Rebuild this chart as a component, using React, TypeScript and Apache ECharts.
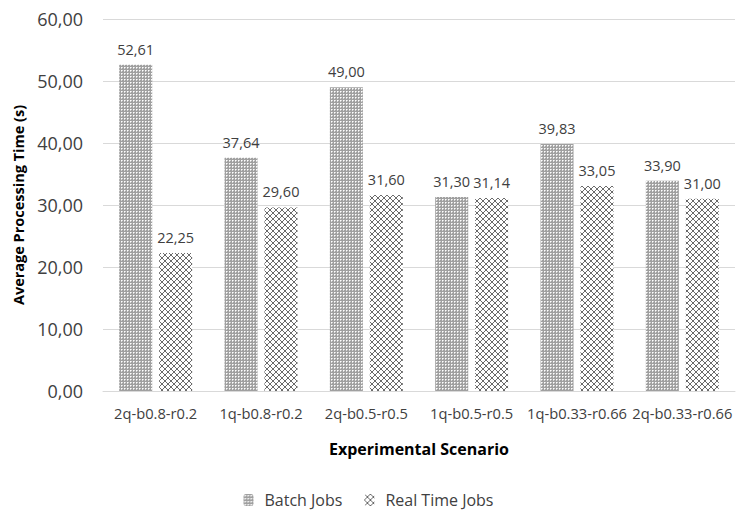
import React, { useEffect, useRef } from "react";
import * as echarts from "echarts";

const categories = ["2q-b0.8-r0.2", "1q-b0.8-r0.2", "2q-b0.5-r0.5", "1q-b0.5-r0.5", "1q-b0.33-r0.66", "2q-b0.33-r0.66"];
const batchJobs = [52.61, 37.64, 49.0, 31.3, 39.83, 33.9];
const realTimeJobs = [22.25, 29.6, 31.6, 31.14, 33.05, 31.0];
const seriesNames = ["Batch Jobs", "Real Time Jobs"];

const FONT = "'Open Sans', sans-serif";

function makeDots(): HTMLCanvasElement {
  const c = document.createElement("canvas");
  c.width = 3;
  c.height = 3;
  const ctx = c.getContext("2d")!;
  ctx.fillStyle = "#a0a0a0";
  ctx.fillRect(0, 0, 3, 3);
  ctx.fillStyle = "#ffffff";
  ctx.fillRect(1, 1, 1, 1);
  ctx.fillStyle = "#d8d8d8";
  ctx.fillRect(2, 1, 1, 1);
  ctx.fillRect(1, 2, 1, 1);
  return c;
}

function makeCross(): HTMLCanvasElement {
  const c = document.createElement("canvas");
  const n = 6;
  c.width = n;
  c.height = n;
  const ctx = c.getContext("2d")!;
  ctx.fillStyle = "#ffffff";
  ctx.fillRect(0, 0, n, n);
  ctx.fillStyle = "#6a6a6a";
  for (let i = 0; i < n; i++) {
    ctx.fillRect(i, i, 1, 1);
    ctx.fillRect(i, n - 1 - i, 1, 1);
  }
  return c;
}

const fmt = (v: number) => v.toFixed(2).replace(".", ",");

export default function App() {
  const ref = useRef<HTMLDivElement>(null);
  useEffect(() => {
    if (!ref.current) return;
    const chart = echarts.init(ref.current, null, { renderer: "svg" });
    const dots = makeDots();
    const cross = makeCross();
    const dotPattern: any = { image: dots, repeat: "repeat", imageWidth: 3, imageHeight: 3 };
    const crossPattern: any = { image: cross, repeat: "repeat", imageWidth: 6, imageHeight: 6 };
    const labelStyle = {
      show: true,
      position: "top" as const,
      distance: 8,
      color: "#404040",
      fontSize: 14.5,
      fontFamily: FONT,
      formatter: (p: any) => fmt(p.value),
    };
    chart.setOption({
      animation: false,
      backgroundColor: "#ffffff",
      grid: { left: 103, right: 2, top: 19, bottom: 123, containLabel: false },
      legend: {
        data: seriesNames,
        left: "center",
        top: 492,
        padding: 0,
        itemWidth: 10,
        itemHeight: 12,
        itemGap: 22,
        textStyle: { color: "#404040", fontSize: 16, lineHeight: 16, fontFamily: FONT, padding: [0, 0, 0, 6] },
      },
      xAxis: {
        type: "category",
        data: categories,
        name: "Experimental Scenario",
        nameLocation: "middle",
        nameGap: 50,
        nameTextStyle: { color: "#000000", fontSize: 16, fontWeight: "bold", fontFamily: FONT },
        axisLine: { lineStyle: { color: "#d9d9d9", width: 1 } },
        axisTick: { show: false },
        axisLabel: { color: "#404040", fontSize: 14.7, fontFamily: FONT, margin: 14, interval: 0 },
      },
      yAxis: {
        type: "value",
        min: 0,
        max: 60,
        interval: 10,
        name: "Average Processing Time (s)",
        nameLocation: "middle",
        nameGap: 68,
        nameTextStyle: { color: "#000000", fontSize: 14.5, fontWeight: "bold", fontFamily: FONT },
        axisLine: { show: false },
        axisTick: { show: false },
        axisLabel: { color: "#404040", fontSize: 18, fontFamily: FONT, margin: 20, formatter: (v: number) => fmt(v) },
        splitLine: { lineStyle: { color: "#d9d9d9", width: 1 } },
      },
      series: [
        {
          name: seriesNames[0],
          type: "bar",
          data: batchJobs,
          barWidth: 33,
          barGap: "21%",
          itemStyle: { color: dotPattern },
          label: labelStyle,
        },
        {
          name: seriesNames[1],
          type: "bar",
          data: realTimeJobs,
          barWidth: 33,
          barGap: "21%",
          itemStyle: { color: crossPattern },
          label: labelStyle,
        },
      ],
    });
    return () => chart.dispose();
  }, []);
  return <div ref={ref} style={{ width: 737, height: 514, position: "absolute", left: 0, top: 0 }} />;
}
